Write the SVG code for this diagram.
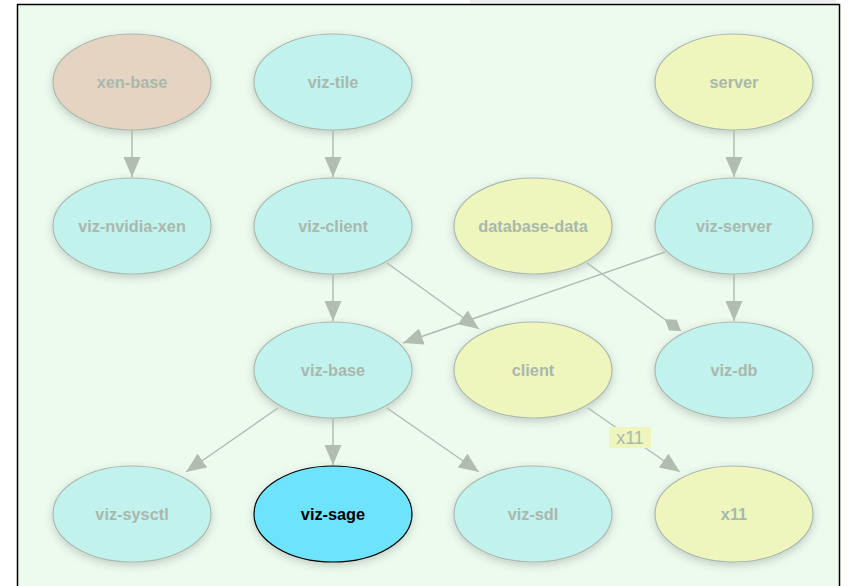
<svg xmlns="http://www.w3.org/2000/svg" width="852" height="586" viewBox="0 0 852 586">
<style>
.n ellipse{stroke:#aab9ac;stroke-width:1.2;filter:url(#sh)}
.cy{fill:#c2f2ee}.yl{fill:#eef5bd}.br{fill:#e6d4c2}
.n text{font-family:"Liberation Sans",Arial,sans-serif;font-weight:bold;font-size:16.3px;fill:#a9b8ac;text-anchor:middle}
.e line{stroke:#b0bdb0;stroke-width:1.5;fill:none}
.a{marker-end:url(#arr)}
.d{marker-end:url(#dia)}
</style>
<defs>
<filter id="sh" x="-20%" y="-20%" width="140%" height="150%">
<feDropShadow dx="0" dy="3" stdDeviation="4" flood-color="#000" flood-opacity="0.18"/>
</filter>
<marker id="arr" markerUnits="userSpaceOnUse" markerWidth="21" markerHeight="17" refX="20" refY="8.5" orient="auto" viewBox="0 0 21 17">
<path d="M0,0 L20,8.5 L0,17 z" fill="#b0bdb0"/>
</marker>
<marker id="dia" markerUnits="userSpaceOnUse" markerWidth="21" markerHeight="13" refX="20" refY="6.5" orient="auto" viewBox="0 0 21 13">
<path d="M0,6.5 L10,0 L20,6.5 L10,13 z" fill="#b0bdb0"/>
</marker>
</defs>
<rect x="470" y="0" width="366" height="3" fill="#eeeeee"/>
<rect x="17.5" y="4.5" width="822" height="600" fill="#edfbef" stroke="#000" stroke-width="1.5"/>
<g id="xen-base" class="n"><ellipse class="br" cx="132" cy="82" rx="79" ry="48"/><text x="132" y="88">xen-base</text></g>
<g id="viz-tile" class="n"><ellipse class="cy" cx="333" cy="82" rx="79" ry="48"/><text x="333" y="88">viz-tile</text></g>
<g id="server" class="n"><ellipse class="yl" cx="734" cy="82" rx="79" ry="48"/><text x="734" y="88">server</text></g>
<g id="viz-nvidia-xen" class="n"><ellipse class="cy" cx="132" cy="226" rx="79" ry="48"/><text x="132" y="232">viz-nvidia-xen</text></g>
<g id="viz-client" class="n"><ellipse class="cy" cx="333" cy="226" rx="79" ry="48"/><text x="333" y="232">viz-client</text></g>
<g id="database-data" class="n"><ellipse class="yl" cx="533" cy="226" rx="79" ry="48"/><text x="533" y="232">database-data</text></g>
<g id="viz-server" class="n"><ellipse class="cy" cx="734" cy="226" rx="79" ry="48"/><text x="734" y="232">viz-server</text></g>
<g id="viz-base" class="n"><ellipse class="cy" cx="333" cy="370" rx="79" ry="48"/><text x="333" y="376">viz-base</text></g>
<g id="client" class="n"><ellipse class="yl" cx="533" cy="370" rx="79" ry="48"/><text x="533" y="376">client</text></g>
<g id="viz-db" class="n"><ellipse class="cy" cx="734" cy="370" rx="79" ry="48"/><text x="734" y="376">viz-db</text></g>
<g id="viz-sysctl" class="n"><ellipse class="cy" cx="132" cy="514" rx="79" ry="48"/><text x="132" y="520">viz-sysctl</text></g>
<g id="viz-sage" class="n"><ellipse cx="333" cy="514" rx="79" ry="48" fill="#6de4fc" style="stroke:#000"/><text x="333" y="520" style="fill:#000">viz-sage</text></g>
<g id="viz-sdl" class="n"><ellipse class="cy" cx="533" cy="514" rx="79" ry="48"/><text x="533" y="520">viz-sdl</text></g>
<g id="x11" class="n"><ellipse class="yl" cx="734" cy="514" rx="79" ry="48"/><text x="734" y="520">x11</text></g>
<g id="edges" class="e">
<line class="a" x1="132" y1="130" x2="132" y2="177"/>
<line class="a" x1="333" y1="130" x2="333" y2="177"/>
<line class="a" x1="734" y1="130" x2="734" y2="177"/>
<line class="a" x1="333" y1="274" x2="333" y2="321"/>
<line class="a" x1="734" y1="274" x2="734" y2="321"/>
<line class="a" x1="387" y1="263" x2="479" y2="329"/>
<line class="a" x1="665" y1="252" x2="403" y2="343"/>
<line class="d" x1="587" y1="263" x2="681" y2="331"/>
<line class="a" x1="278" y1="408" x2="186" y2="472"/>
<line class="a" x1="333" y1="418" x2="333" y2="465"/>
<line class="a" x1="387" y1="408" x2="479" y2="472"/>
<line class="a" x1="588" y1="408" x2="680" y2="472"/>
<g id="label-x11">
<rect x="609" y="427" width="42" height="21" fill="#eef5bd"/>
<text x="630" y="444" font-family="'Liberation Sans',Arial,sans-serif" font-size="18" fill="#a9b8ac" text-anchor="middle">x11</text>
</g>
</g>
</svg>
